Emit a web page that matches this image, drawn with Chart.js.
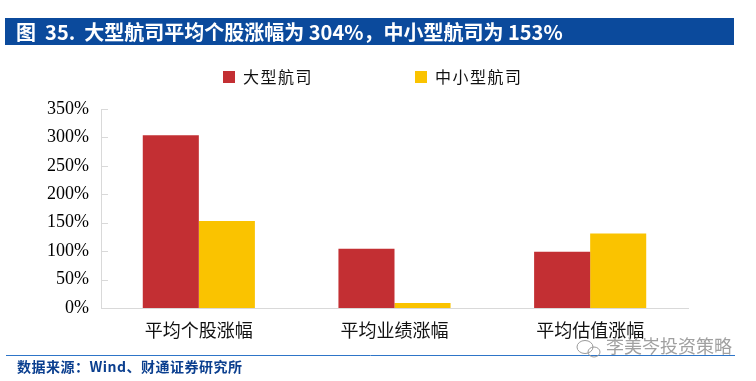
<!DOCTYPE html>
<html>
<head>
<meta charset="utf-8">
<script src="https://cdn.jsdelivr.net/npm/chart.js@4.4.1/dist/chart.umd.min.js"></script>
<style>
  html, body { margin: 0; padding: 0; background: #fff; }
  #wrap { width: 756px; height: 381px; position: relative; }
</style>
</head>
<body>
<div id="wrap"><canvas id="barchart" width="756" height="381"></canvas></div>
<script>
// categorieen, reeksen en waarden
let categories = ['平均个股涨幅', '平均业绩涨幅', '平均估值涨幅']
let seriesNames = ['大型航司', '中小型航司']
let bigAirlines = [304, 104, 99]     // 大型航司 (%)
let smallAirlines = [153, 9, 131]    // 中小型航司 (%)
let yTicks = [0, 50, 100, 150, 200, 250, 300, 350]
let colors = ['#C32F33', '#FAC300']

let titleText = '图  35.  大型航司平均个股涨幅为 304%，中小型航司为 153%'
let sourceText = '数据来源：Wind、财通证券研究所'
let watermarkText = '李美岑投资策略'

const CJK = '"Noto Sans CJK SC", "Noto Sans", sans-serif'

// titelbalk, voetnoot, legenda en tickstreepjes
let decor = {
  id: 'decor',
  afterDraw(chart) {
    let c = chart.ctx
    c.save()
    // title bar
    c.fillStyle = '#0B4A9C'
    c.fillRect(5, 18, 729, 27)
    c.fillStyle = '#fff'
    c.font = 'bold 20px ' + CJK
    c.textBaseline = 'middle'
    c.textAlign = 'left'
    c.letterSpacing = '0px'
    c.fillText(titleText, 16, 32)

    // legend
    c.font = '16px ' + CJK
    c.letterSpacing = '1.5px'
    let legendX = [223, 415]
    chart.data.datasets.forEach((ds, i) => {
      c.fillStyle = ds.backgroundColor
      c.fillRect(legendX[i], 71, 12, 12)
      c.fillStyle = '#111'
      c.fillText(ds.label, legendX[i] + 20, 77)
    })
    c.letterSpacing = '0px'

    // inward y ticks
    let y = chart.scales.y
    let x0 = chart.chartArea.left
    c.strokeStyle = '#D9D9D9'
    c.lineWidth = 1
    y.ticks.forEach(t => {
      if (t.value === 0) return
      let py = Math.round(y.getPixelForValue(t.value)) + 0.5
      c.beginPath()
      c.moveTo(x0, py)
      c.lineTo(x0 + 7, py)
      c.stroke()
    })

    // footer line + source
    c.strokeStyle = '#2E75C8'
    c.beginPath()
    c.moveTo(6, 355.5)
    c.lineTo(735, 355.5)
    c.stroke()
    c.fillStyle = '#0B3F8F'
    c.font = 'bold 14px ' + CJK
    c.letterSpacing = '0.5px'
    c.fillText(sourceText, 17, 367)
    c.letterSpacing = '0px'

    // watermark
    c.strokeStyle = '#9A9A9A'
    c.lineWidth = 1
    c.beginPath()
    c.ellipse(585, 347, 8, 6.5, 0, 0, Math.PI * 2)
    c.stroke()
    c.beginPath()
    c.ellipse(594, 352, 6, 5, 0, 0, Math.PI * 2)
    c.stroke()
    c.fillStyle = '#A0A0A0'
    c.font = '18px ' + CJK
    c.fillText(watermarkText, 606, 346)
    c.restore()
  }
}

let ctx = document.getElementById('barchart').getContext('2d')

let chart = new Chart(ctx, {
  type: 'bar',
  data: {
    labels: categories,
    datasets: [
      { label: seriesNames[0], data: bigAirlines, backgroundColor: colors[0] },
      { label: seriesNames[1], data: smallAirlines, backgroundColor: colors[1] }
    ]
  },
  options: {
    responsive: false,
    animation: false,
    layout: { padding: { left: 0, right: 68, top: 109, bottom: 0 } },
    categoryPercentage: 0.573,
    barPercentage: 1.0,
    plugins: {
      legend: { display: false },
      tooltip: { enabled: false }
    },
    scales: {
      x: {
        grid: { display: false, drawTicks: false },
        border: { color: '#D9D9D9', width: 1 },
        ticks: {
          color: '#111',
          font: { family: CJK, size: 18 },
          padding: 11,
          maxRotation: 0
        },
        afterFit: s => { s.height = 73 }
      },
      y: {
        min: 0,
        max: 350,
        afterBuildTicks: s => { s.ticks = yTicks.map(v => ({ value: v })) },
        grid: { display: false, drawTicks: false },
        border: { color: '#D9D9D9', width: 1 },
        ticks: {
          color: '#000',
          font: { family: '"Liberation Serif", "Times New Roman", serif', size: 18 },
          padding: 12,
          callback: v => v + '%'
        },
        afterFit: s => { s.width = 101 }
      }
    }
  },
  plugins: [decor]
})
</script>
</body>
</html>
